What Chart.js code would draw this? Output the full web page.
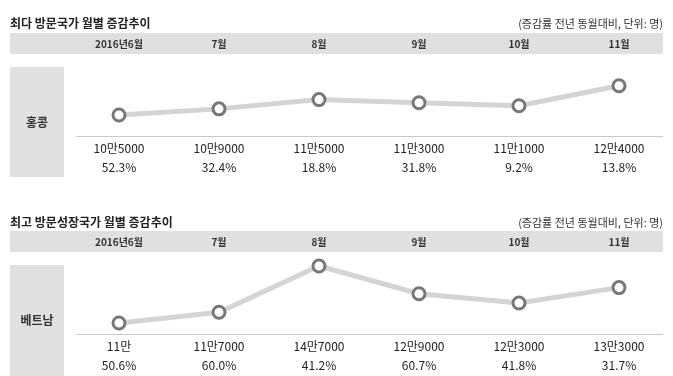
<!DOCTYPE html>
<html>
<head>
<meta charset="utf-8">
<script src="https://cdn.jsdelivr.net/npm/chart.js@4"></script>
<style>
  html, body { margin:0; padding:0; background:#fff; }
  body { width:673px; height:376px; position:relative; overflow:hidden; font-family:"Noto Sans CJK KR","Noto Sans",sans-serif; }
  canvas { position:absolute; left:0; }
  .title { position:absolute; left:10px; font-size:12px; font-weight:bold; color:#222; line-height:16px; white-space:nowrap; z-index:2; }
  .note { position:absolute; right:10px; font-size:11px; color:#333; line-height:16px; white-space:nowrap; z-index:2; }
</style>
</head>
<body>
<div class="title" style="top:15px">최다 방문국가 월별 증감추이</div>
<div class="note" style="top:15px">(증감률 전년 동월대비, 단위: 명)</div>
<div class="title" style="top:214px">최고 방문성장국가 월별 증감추이</div>
<div class="note" style="top:214px">(증감률 전년 동월대비, 단위: 명)</div>
<canvas id="c1" width="673" height="198" style="top:0"></canvas>
<canvas id="c2" width="673" height="178" style="top:198px"></canvas>
<script>
const months = ['2016년6월', '7월', '8월', '9월', '10월', '11월'];
const hkVisitors = [105000, 109000, 115000, 113000, 111000, 124000];
const hkGrowth = [52.3, 32.4, 18.8, 31.8, 9.2, 13.8];
const vnVisitors = [110000, 117000, 147000, 129000, 123000, 133000];
const vnGrowth = [50.6, 60.0, 41.2, 60.7, 41.8, 31.7];

const FONT = '"Noto Sans CJK KR", "Noto Sans", sans-serif';

function fmtCount(v) {
  const man = Math.floor(v / 10000);
  const rest = v % 10000;
  return man + '만' + (rest ? rest : '');
}

function makeChart(id, country, visitors, growth, yMin, yMax, boxBottom) {
  const deco = {
    id: 'deco',
    beforeDraw(chart) {
      const ctx = chart.ctx;
      const xs = chart.scales.x;
      const ca = chart.chartArea;
      ctx.save();
      ctx.fillStyle = '#e0e0e0';
      ctx.fillRect(10, xs.top, 653, xs.bottom - xs.top);
      ctx.fillRect(10, ca.top + 13, 54, boxBottom - (ca.top + 13));
      ctx.strokeStyle = '#c8c8c8';
      ctx.lineWidth = 1;
      ctx.beginPath();
      ctx.moveTo(76, Math.round(ca.bottom) + 0.5);
      ctx.lineTo(663, Math.round(ca.bottom) + 0.5);
      ctx.stroke();
      ctx.restore();
    },
    afterDraw(chart) {
      const ctx = chart.ctx;
      const xs = chart.scales.x;
      const ca = chart.chartArea;
      ctx.save();
      ctx.fillStyle = '#222';
      ctx.textAlign = 'center';
      ctx.textBaseline = 'middle';
      ctx.font = '12px ' + FONT;
      visitors.forEach((v, i) => {
        const x = xs.getPixelForValue(i);
        ctx.fillText(fmtCount(v), x, ca.bottom + 12);
        ctx.fillText(growth[i].toFixed(1) + '%', x, ca.bottom + 31);
      });
      ctx.font = 'bold 12px ' + FONT;
      ctx.fillStyle = '#333';
      const top = ca.top + 13;
      ctx.fillText(country, 37, (top + boxBottom) / 2);
      ctx.restore();
    }
  };
  return new Chart(document.getElementById(id), {
    type: 'line',
    data: {
      labels: months,
      datasets: [{
        data: visitors,
        borderColor: '#d4d4d4',
        borderWidth: 5,
        tension: 0,
        pointRadius: 6,
        pointBorderWidth: 3,
        pointBorderColor: '#777',
        pointBackgroundColor: '#fff',
        clip: false
      }]
    },
    options: {
      responsive: false,
      animation: false,
      events: [],
      layout: { padding: { left: 119, right: 54, top: 33, bottom: chartBottomPad(id) } },
      plugins: { legend: { display: false }, tooltip: { enabled: false } },
      scales: {
        x: {
          type: 'category',
          position: 'top',
          offset: false,
          grid: { display: false, drawTicks: false },
          border: { display: false },
          ticks: {
            autoSkip: false, maxRotation: 0, padding: 4,
            color: '#333',
            font: { family: FONT, size: 10, weight: 'bold' }
          },
          afterFit(scale) { scale.height = 21; }
        },
        y: { display: false, min: yMin, max: yMax }
      }
    },
    plugins: [deco]
  });
}

function chartBottomPad(id) { return id === 'c1' ? 62 : 42; }

makeChart('c1', '홍콩', hkVisitors, hkGrowth, 91400, 144600, 177);
makeChart('c2', '베트남', vnVisitors, vnGrowth, 102900, 156100, 178);
</script>
</body>
</html>
